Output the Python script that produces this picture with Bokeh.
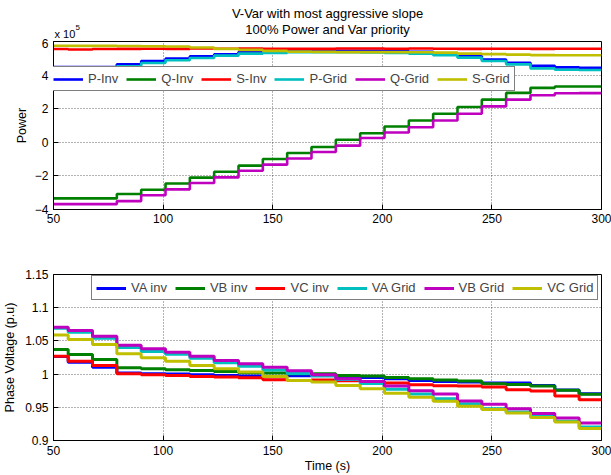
from bokeh.plotting import figure
from bokeh.layouts import column
from bokeh.models import (Legend, LegendItem, CustomJSTickFormatter, FixedTicker, Range1d)
from bokeh.core.properties import value
from bokeh.embed import file_html
from bokeh.resources import INLINE

FONT = "Liberation Sans"

# Start time of each operating interval (s) and end of the run
seg_start = [50.0, 56.7, 67.8, 78.9, 90.0, 101.1, 112.2, 123.3, 134.4, 145.5, 156.6,
             167.7, 178.8, 189.9, 201.0, 212.1, 223.2, 234.3, 245.4, 256.5, 267.6,
             278.7, 289.8]
t_end = 300.0

# Power (x 10^5) per interval
p_inv = [4.48, 4.48, 4.48, 4.64, 4.84, 4.98, 5.12, 5.24, 5.37, 5.43, 5.45, 5.45,
         5.45, 5.45, 5.42, 5.38, 5.30, 5.14, 4.92, 4.73, 4.55, 4.46, 4.44]
q_inv = [-3.34, -3.34, -3.34, -3.08, -2.82, -2.45, -2.10, -1.75, -1.39, -0.99, -0.64,
         -0.28, 0.15, 0.54, 0.94, 1.30, 1.70, 2.10, 2.54, 2.94, 3.24, 3.32, 3.32]
s_inv = [5.55, 5.52, 5.55, 5.56, 5.57, 5.56, 5.58, 5.57, 5.58, 5.56, 5.57, 5.56,
         5.58, 5.58, 5.57, 5.58, 5.57, 5.56, 5.57, 5.57, 5.56, 5.57, 5.57]
p_grid = [4.42, 4.42, 4.42, 4.52, 4.72, 4.88, 5.02, 5.16, 5.28, 5.32, 5.36, 5.36,
          5.36, 5.35, 5.32, 5.28, 5.18, 5.04, 4.84, 4.64, 4.40, 4.32, 4.30]
q_grid = [-3.68, -3.68, -3.68, -3.50, -3.15, -2.80, -2.42, -2.09, -1.69, -1.33, -0.96,
          -0.58, -0.20, 0.26, 0.58, 0.90, 1.30, 1.70, 2.14, 2.54, 2.80, 2.92, 2.93]
s_grid = [5.75, 5.74, 5.74, 5.73, 5.72, 5.70, 5.64, 5.56, 5.50, 5.44, 5.40, 5.38,
          5.37, 5.37, 5.37, 5.36, 5.34, 5.28, 5.25, 5.22, 5.19, 5.18, 5.18]

# Phase voltages (p.u) per interval
va_inv = [1.0265, 1.018, 1.0105, 1.0015, 1.0005, 1.0, 0.999, 0.998, 0.997, 0.996,
          0.9975, 0.998, 0.996, 0.995, 0.993, 0.9905, 0.989, 0.988, 0.9865, 0.9865,
          0.983, 0.976, 0.9705]
vb_inv = [1.037, 1.0295, 1.022, 1.0095, 1.008, 1.0065, 1.0055, 1.004, 1.002, 1.0015,
          1.0005, 1.0005, 0.998, 0.997, 0.995, 0.993, 0.991, 0.9895, 0.9855, 0.9845,
          0.982, 0.9755, 0.9695]
vc_inv = [1.027, 1.0195, 1.013, 1.0005, 0.999, 0.998, 0.9965, 0.9955, 0.9945, 0.9915,
          0.9905, 0.991, 0.990, 0.989, 0.9865, 0.984, 0.9825, 0.982, 0.9805, 0.9765,
          0.9745, 0.967, 0.9615]
va_grid = [1.069, 1.063, 1.054, 1.040, 1.034, 1.030, 1.024, 1.017, 1.012, 1.006, 1.001,
           0.997, 0.992, 0.986, 0.977, 0.970, 0.963, 0.9555, 0.948, 0.943, 0.9365,
           0.929, 0.9205]
vb_grid = [1.0705, 1.0655, 1.057, 1.0435, 1.038, 1.033, 1.027, 1.0205, 1.0155, 1.0105,
           1.005, 0.999, 0.993, 0.989, 0.982, 0.975, 0.970, 0.9595, 0.9545, 0.948,
           0.9405, 0.934, 0.9265]
vc_grid = [1.059, 1.052, 1.0445, 1.0305, 1.0245, 1.0195, 1.013, 1.008, 1.003, 0.9965,
           0.9905, 0.988, 0.983, 0.978, 0.971, 0.965, 0.959, 0.9515, 0.9465, 0.9415,
           0.9345, 0.928, 0.918]

x_ticks = [50, 100, 150, 200, 250, 300]
power_ticks = [-4, -2, 0, 2, 4, 6]
volt_ticks = [0.9, 0.95, 1.0, 1.05, 1.1, 1.15]

title_lines = ["V-Var with most aggressive slope", "100% Power and Var priority"]
power_scale = ["x 10", "5"]

C_BLUE, C_GREEN, C_RED = "#0000ff", "#008000", "#ff0000"
C_CYAN, C_MAG, C_YEL = "#00bfbf", "#bf00bf", "#bfbf00"

LEFT, RIGHT = 53, 10   # border widths shared by all panels
WIDTH = 611


def step_xy(vals):
    return seg_start + [t_end], vals + [vals[-1]]


def style(p):
    p.outline_line_color = "black"
    p.outline_line_width = 1
    for ax in (p.xaxis[0], p.yaxis[0]):
        ax.axis_line_color = "black"
        ax.major_tick_in = 5
        ax.major_tick_out = 0
        ax.minor_tick_in = 0
        ax.minor_tick_out = 0
        ax.major_label_text_font = FONT
        ax.major_label_text_font_size = "12px"
        ax.major_label_text_color = "black"
        ax.axis_label_text_font = FONT
        ax.axis_label_text_font_size = "12.5px"
        ax.axis_label_text_font_style = "normal"
        ax.axis_label_text_color = "black"
        ax.major_label_standoff = 5
    p.xaxis.ticker = FixedTicker(ticks=x_ticks)
    p.grid.grid_line_color = "black"
    p.grid.grid_line_alpha = 0.6
    p.grid.grid_line_dash = "1 2"
    p.background_fill_color = "white"
    p.border_fill_color = "white"


def add_legend(p, renderers, labels, loc):
    items = [LegendItem(label=l, renderers=[r]) for l, r in zip(labels, renderers)]
    leg = Legend(items=items, orientation="horizontal", location=loc,
                 border_line_color="black", border_line_width=1,
                 background_fill_alpha=1.0, label_text_font=FONT,
                 label_text_font_size="13px", glyph_width=30, glyph_height=14,
                 label_standoff=5, spacing=8, padding=4, margin=0,
                 label_height=14)
    p.add_layout(leg, "center")


# ---- Header with the title and the power scale factor ----
# x and y of this panel are in pixels: x from the page's left edge, y from the top
hdr = figure(width=WIDTH, height=38, x_range=Range1d(LEFT, WIDTH - RIGHT),
             y_range=Range1d(38, 0), output_backend="svg", toolbar_location=None,
             min_border_left=LEFT, min_border_right=RIGHT, min_border_top=0,
             min_border_bottom=0)
hdr.axis.visible = False
hdr.grid.visible = False
hdr.outline_line_color = None
hdr.text(x=[327, 327], y=[13, 28.5], text=title_lines, text_align="center",
         text_baseline="middle", text_font=value(FONT), text_font_size="13px",
         text_color="black")
hdr.text(x=[54], y=[33], text=[power_scale[0]], text_baseline="alphabetic",
         text_font=value(FONT), text_font_size="11px", text_color="black")
hdr.text(x=[75], y=[27], text=[power_scale[1]], text_baseline="alphabetic",
         text_font=value(FONT), text_font_size="8px", text_color="black")

# ---- Power subplot ----
p1 = figure(width=WIDTH, height=202, x_range=Range1d(50, 300), y_range=Range1d(-4, 6),
            output_backend="svg", toolbar_location=None,
            min_border_left=LEFT, min_border_right=RIGHT, min_border_top=3,
            min_border_bottom=31)
style(p1)
p1.yaxis.ticker = FixedTicker(ticks=power_ticks)
p1.yaxis.axis_label = "Power"
p1.yaxis.axis_label_standoff = 3
p1.xaxis.major_label_standoff = 4

power_series = [(p_inv, C_BLUE, "P-Inv"), (q_inv, C_GREEN, "Q-Inv"),
                (s_inv, C_RED, "S-Inv"), (p_grid, C_CYAN, "P-Grid"),
                (q_grid, C_MAG, "Q-Grid"), (s_grid, C_YEL, "S-Grid")]
r1 = []
for vals, col, _ in power_series:
    xs, ys = step_xy(vals)
    r1.append(p1.step(xs, ys, mode="after", line_color=col, line_width=2.6))
add_legend(p1, r1, [s[2] for s in power_series], (-5, 118))

# ---- Voltage subplot ----
p2 = figure(width=WIDTH, height=235, x_range=Range1d(50, 300),
            y_range=Range1d(0.9, 1.15), output_backend="svg", toolbar_location=None,
            min_border_left=LEFT, min_border_right=RIGHT, min_border_top=34,
            min_border_bottom=35)
style(p2)
p2.yaxis.ticker = FixedTicker(ticks=volt_ticks)
p2.yaxis.formatter = CustomJSTickFormatter(
    code="return tick.toFixed(2).replace(/0+$/, '').replace(/\\.$/, '');")
p2.yaxis.axis_label = "Phase Voltage (p.u)"
p2.yaxis.axis_label_standoff = 5
p2.xaxis.axis_label = "Time (s)"
p2.xaxis.axis_label_standoff = 1

volt_series = [(va_inv, C_BLUE, "VA inv"), (vb_inv, C_GREEN, "VB inv"),
               (vc_inv, C_RED, "VC inv"), (va_grid, C_CYAN, "VA Grid"),
               (vb_grid, C_MAG, "VB Grid"), (vc_grid, C_YEL, "VC Grid")]
r2 = []
for vals, col, _ in volt_series:
    xs, ys = step_xy(vals)
    r2.append(p2.step(xs, ys, mode="after", line_color=col, line_width=3))
add_legend(p2, r2, [s[2] for s in volt_series], (38, 140))

layout = column(hdr, p1, p2, spacing=0)
open("out.html", "w").write(file_html(layout, INLINE))
